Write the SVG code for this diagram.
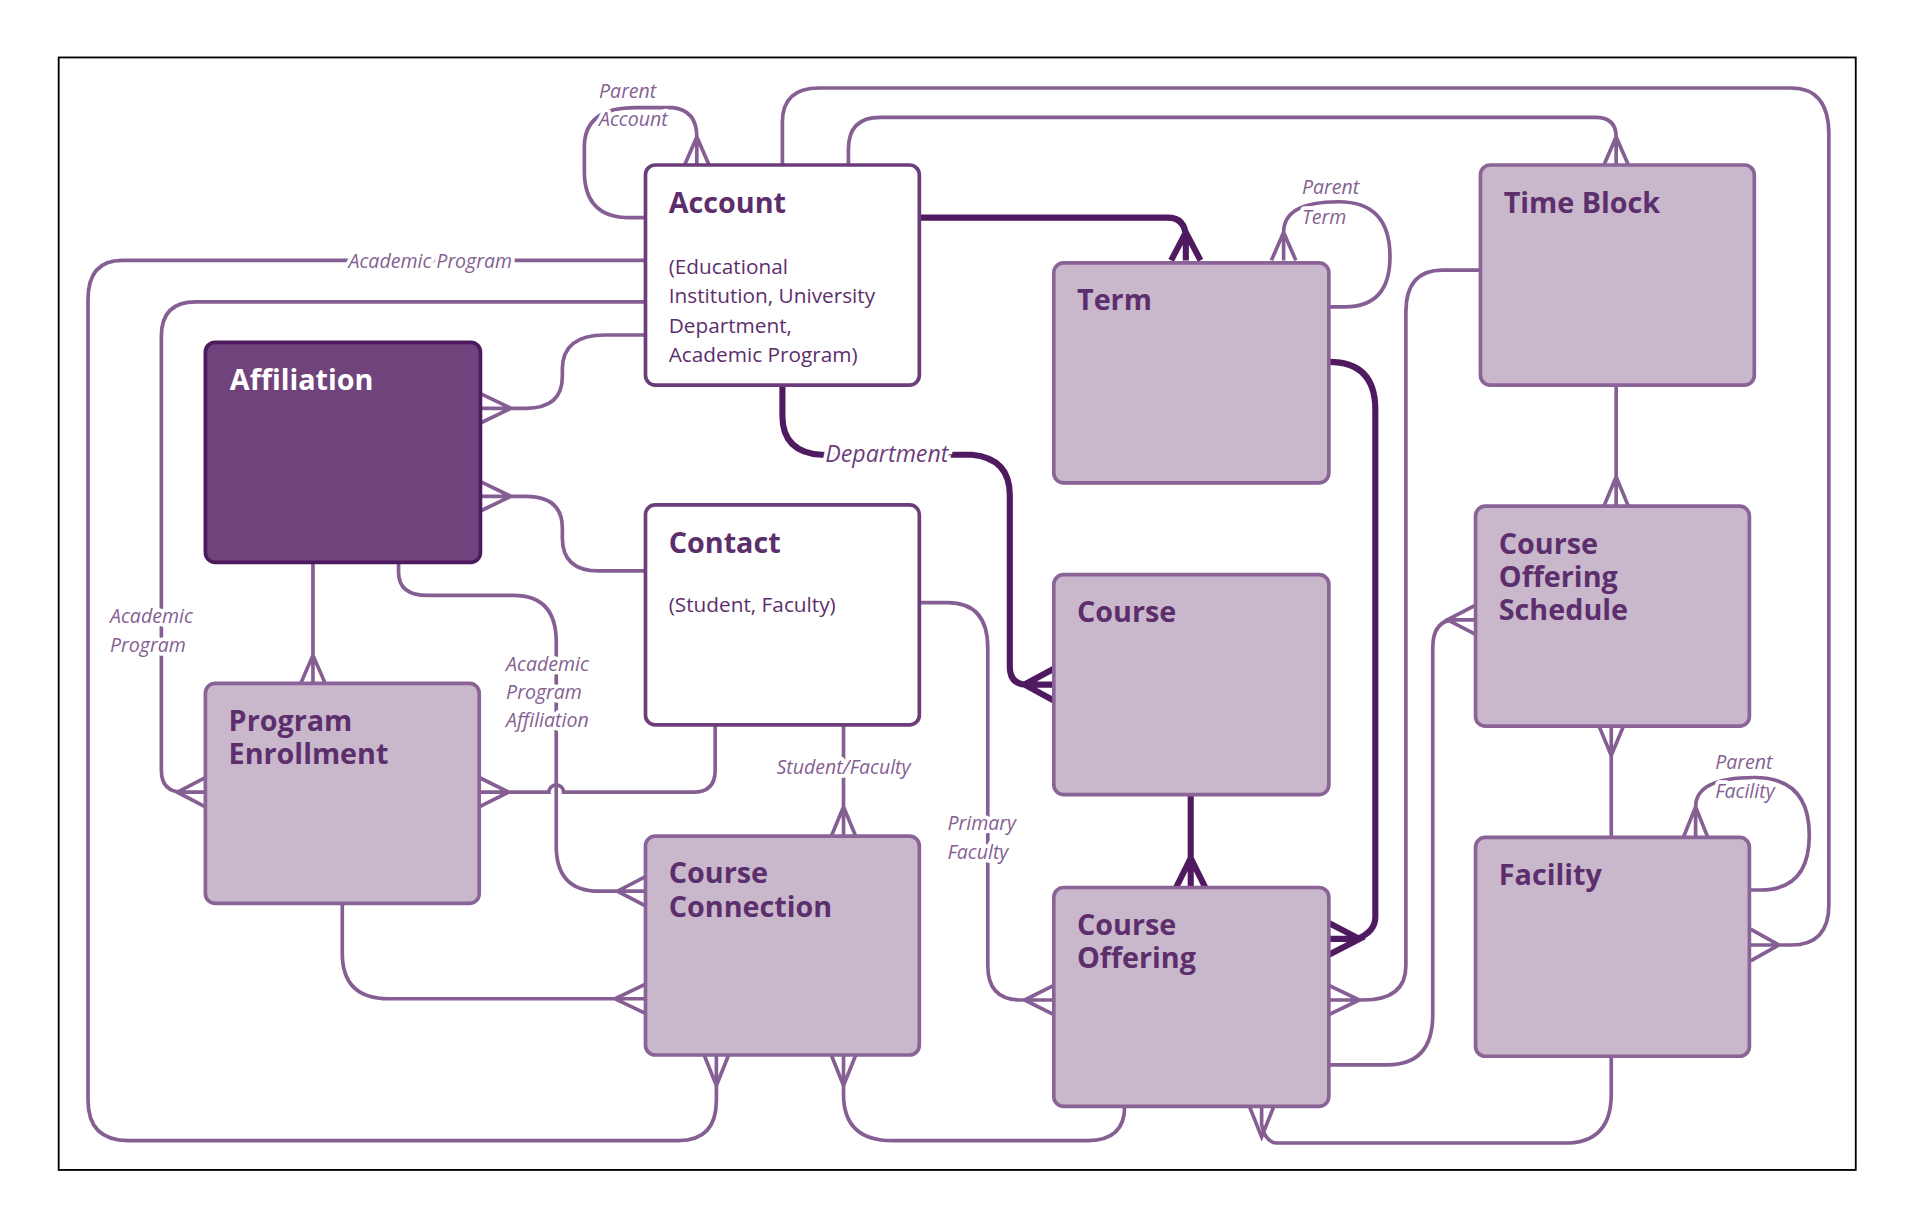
<svg xmlns="http://www.w3.org/2000/svg" width="1916" height="1229" viewBox="0 0 1916 1229">
<style>
.bw{fill:#fff;stroke:#6b3d7b;stroke-width:3}
.bl{fill:#c9b7cc;stroke:#8a6397;stroke-width:3}
.bd{fill:#70437c;stroke:#4d1a5e;stroke-width:3}
.t{font-family:"Open Sans","Noto Sans",sans-serif;font-weight:bold;font-size:23.5px;fill:#5c2f6c}
.tw{font-family:"Open Sans","Noto Sans",sans-serif;font-weight:bold;font-size:23.5px;fill:#fff}
.s{font-family:"Open Sans","Noto Sans",sans-serif;font-size:17px;fill:#5c2f6c}
.c{fill:none;stroke:#855f93;stroke-width:3}
.k{fill:none;stroke:#4f1a5f;stroke-width:5}
.l{font-family:"Open Sans","Noto Sans",sans-serif;font-style:italic;font-size:16px;fill:#855f93;stroke:#fff;stroke-width:6;paint-order:stroke;stroke-linejoin:round}
.ld{font-family:"Open Sans","Noto Sans",sans-serif;font-style:italic;font-size:19px;fill:#6b3d7b;stroke:#fff;stroke-width:6;paint-order:stroke}
</style>
<rect width="1916" height="1229" fill="#fff"/>
<g transform="scale(1.2225)">
<rect x="48" y="47" width="1470" height="910" fill="none" stroke="#000" stroke-width="1.5"/>
<g id="connectors">
<path class="c" d="M528,178 H515 Q478,178 478,140 V120 Q478,88 520,88 H550 Q570,90 570,112 V135 M560,135 L570,112 L580,135"/>
<path class="k" d="M752,178 H955 Q970,178 970,195 V213 M958,213 L970,190 L982,213"/>
<path class="c" d="M640,135 V100 Q640,72 670,72 H1465 Q1496,72 1496,110 V740 Q1496,773 1465,773 H1432 M1432,760 L1455,773 L1432,786"/>
<path class="c" d="M694,135 V122 Q694,96 720,96 H1305 Q1322,96 1322,112 V135 M1312,135 L1322,112 L1332,135"/>
<path class="c" d="M528,213 H100 Q72,213 72,245 V900 Q72,933 105,933 H555 Q586,933 586,900 V863 M576,863 L586,888 L596,863"/>
<path class="c" d="M528,247 H160 Q132,247 132,275 V630 Q132,648 150,648 H168 M168,636 L145,648 L168,660"/>
<path class="c" d="M528,274 H495 Q460,274 460,302 V308 Q460,334 430,334 H393 M393,322 L418,334 L393,346"/>
<path class="c" d="M528,467 H490 Q460,467 460,440 V432 Q460,406 430,406 H393 M393,394 L418,406 L393,418"/>
<path class="k" d="M640,315 V340 Q640,370 672,372 H795 Q826,375 826,405 V545 Q826,560 840,560 H862 M862,547 L838,560 L862,573"/>
<path class="c" d="M256,460 V559 M246,559 L256,536 L266,559"/>
<path class="c" d="M326,460 V468 Q326,487 350,487 H420 Q455,487 455,525 V692 Q455,729 490,729 H528 M528,717 L505,729 L528,741"/>
<path class="c" d="M585,593 V630 Q585,648 567,648 H461 A6,6 0 0 0 449,648 H392 M392,636 L416,648 L392,660"/>
<path class="c" d="M690,593 V684 M680,684 L690,660 L700,684"/>
<path class="c" d="M752,493 H775 Q808,493 808,530 V790 Q808,818 835,818 H862 M862,806 L838,818 L862,830"/>
<path class="c" d="M280,739 V780 Q280,817 318,817 H528 M528,805 L503,817 L528,829"/>
<path class="c" d="M690,863 V895 Q690,933 730,933 H890 Q920,933 920,905 M680,863 L690,888 L700,863"/>
<path class="c" d="M1087,251 H1100 Q1137,251 1137,210 Q1137,165 1095,165 Q1050,165 1050,190 V213 M1040,213 L1050,190 L1060,213"/>
<path class="k" d="M1087,296 Q1125,296 1125,335 V750 Q1125,762 1110,768 H1087 M1087,755 L1112,768 L1087,781"/>
<path class="k" d="M974,650 V726 M962,726 L974,702 L986,726"/>
<path class="c" d="M1211,221 H1180 Q1150,221 1150,255 V790 Q1150,818 1115,818 H1087 M1087,806 L1112,818 L1087,830"/>
<path class="c" d="M1322,315 V414 M1312,414 L1322,390 L1332,414"/>
<path class="c" d="M1087,871 H1135 Q1172,871 1172,830 V530 Q1172,507 1190,507 H1207 M1207,495 L1184,507 L1207,519"/>
<path class="c" d="M1318,594 V685 M1308,594 L1318,618 L1328,594"/>
<path class="c" d="M1431,728 H1440 Q1480,728 1480,683 Q1480,636 1435,636 Q1387,636 1387,660 V685 M1377,685 L1387,660 L1397,685"/>
<path class="c" d="M1318,864 V895 Q1318,935 1280,935 H1045 Q1035,935 1032,920 V905 M1022,905 L1032,930 L1042,905"/>
<text class="l" x="490" y="80">Parent</text><text class="l" x="490" y="103">Account</text>
<text class="l" x="352" y="219" text-anchor="middle">Academic Program</text>
<text class="l" x="90" y="510">Academic</text><text class="l" x="90" y="533">Program</text>
<text class="l" x="414" y="549">Academic</text><text class="l" x="414" y="572">Program</text><text class="l" x="414" y="595">Affiliation</text>
<text class="ld" x="675" y="378">Department</text>
<text class="l" x="690" y="633" text-anchor="middle">Student/Faculty</text>
<text class="l" x="775" y="679">Primary</text><text class="l" x="775" y="703">Faculty</text>
<text class="l" x="1065" y="159">Parent</text><text class="l" x="1065" y="183">Term</text>
<text class="l" x="1403" y="629">Parent</text><text class="l" x="1403" y="653">Facility</text>
</g>
<g id="account"><rect class="bw" x="528" y="135" width="224" height="180" rx="8"/><text class="t" x="547" y="174">Account</text>
<text class="s" x="547" y="224">(Educational</text><text class="s" x="547" y="248">Institution, University</text><text class="s" x="547" y="272">Department,</text><text class="s" x="547" y="296">Academic Program)</text></g>
<g id="affiliation"><rect class="bd" x="168" y="280" width="225" height="180" rx="8"/><text class="tw" x="188" y="319">Affiliation</text></g>
<g id="contact"><rect class="bw" x="528" y="413" width="224" height="180" rx="8"/><text class="t" x="547" y="452">Contact</text><text class="s" x="547" y="501">(Student, Faculty)</text></g>
<g id="term"><rect class="bl" x="862" y="215" width="225" height="180" rx="8"/><text class="t" x="881" y="254">Term</text></g>
<g id="timeblock"><rect class="bl" x="1211" y="135" width="224" height="180" rx="8"/><text class="t" x="1230" y="174">Time Block</text></g>
<g id="course"><rect class="bl" x="862" y="470" width="225" height="180" rx="8"/><text class="t" x="881" y="509">Course</text></g>
<g id="courseofferingschedule"><rect class="bl" x="1207" y="414" width="224" height="180" rx="8"/><text class="t" x="1226" y="453">Course</text><text class="t" x="1226" y="480">Offering</text><text class="t" x="1226" y="507">Schedule</text></g>
<g id="programenrollment"><rect class="bl" x="168" y="559" width="224" height="180" rx="8"/><text class="t" x="187" y="598">Program</text><text class="t" x="187" y="625">Enrollment</text></g>
<g id="courseconnection"><rect class="bl" x="528" y="684" width="224" height="179" rx="8"/><text class="t" x="547" y="722">Course</text><text class="t" x="547" y="750">Connection</text></g>
<g id="courseoffering"><rect class="bl" x="862" y="726" width="225" height="179" rx="8"/><text class="t" x="881" y="765">Course</text><text class="t" x="881" y="792">Offering</text></g>
<g id="facility"><rect class="bl" x="1207" y="685" width="224" height="179" rx="8"/><text class="t" x="1226" y="724">Facility</text></g>
</g>
</svg>
